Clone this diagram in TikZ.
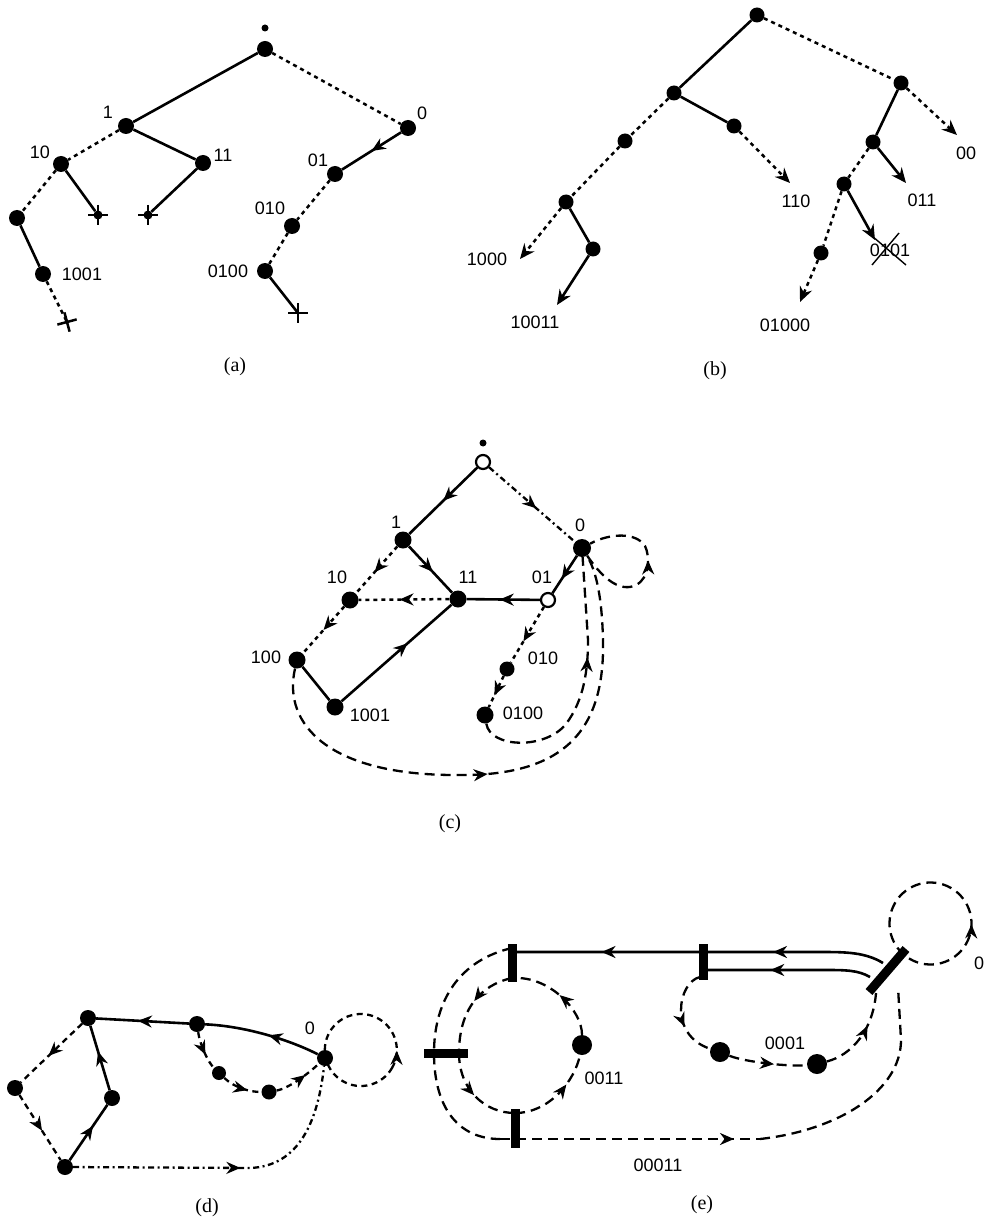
\documentclass[tikz,border=0pt]{standalone}
\usepackage{fontspec}
\setmainfont{Liberation Serif}
\newfontfamily\labfont{Liberation Sans}
\usetikzlibrary{arrows.meta,decorations.markings}
\tikzset{pics/crs/.style={code={\draw[line width=2.5pt] (-10,0)--(10,0) (0,-10)--(0,10);}}}
\begin{document}
\begin{tikzpicture}[x=1pt,y=-1pt,
 nd/.style={circle,fill=black,inner sep=0pt,minimum size=#1},
 nd/.default=16pt,
 ond/.style={circle,draw=black,line width=2.2pt,fill=white,inner sep=0pt,minimum size=14pt},
 lb/.style={font={\labfont\fontsize{18}{18}\selectfont},inner sep=0pt},
 cpt/.style={font={\fontsize{20}{20}\selectfont},inner sep=0pt},
 sol/.style={line width=2.6pt},
 dtd/.style={line width=2.5pt,dash pattern=on 4pt off 4pt},
 ddt/.style={line width=2.3pt,dash pattern=on 6pt off 3.5pt on 2pt off 3.5pt},
 dsh/.style={line width=2.3pt,dash pattern=on 10pt off 6pt},
 dsm/.style={line width=2.3pt,dash pattern=on 6pt off 4.5pt},
 ma/.style={postaction={decorate,decoration={markings,mark=at position #1 with {\arrow{Stealth[length=14pt,width=12pt,inset=4.5pt]}}}}},
 ma/.default=0.5,
 arr/.style={-{Stealth[length=15pt,width=13pt,inset=5pt]}},
 bar/.style={line width=9pt},
]
\useasboundingbox (0,0) rectangle (983,1222);

% ---------------- (a)
\node[nd=7pt] (aRl) at (265,28) {};
\node[nd] (aR) at (265,49) {};
\node[nd] (a1) at (126,126) {};
\node[nd] (a0) at (408,128) {};
\node[nd] (a10) at (61,164) {};
\node[nd] (a11) at (203,163) {};
\node[nd] (a100) at (17,218) {};
\node[nd] (a1001) at (43,274) {};
\node[nd] (a01) at (335,174) {};
\node[nd] (a010) at (292,226) {};
\node[nd] (a0100) at (265,271) {};
\node[nd=9pt] (ax1) at (98,215) {};
\node[nd=9pt] (ax2) at (148,215) {};
\coordinate (ax3) at (67,322);
\coordinate (ax4) at (298,313);
\pic at (ax1) {crs};
\pic at (ax2) {crs};
\pic[rotate=15] at (ax3) {crs};
\pic at (ax4) {crs};
\draw[sol] (aR) -- (a1);
\draw[dtd] (aR) -- (a0);
\draw[dtd] (a1) -- (a10);
\draw[sol] (a1) -- (a11);
\draw[dtd] (a10) -- (a100);
\draw[sol] (a10) -- (ax1);
\draw[sol] (a11) -- (ax2);
\draw[sol] (a100) -- (a1001);
\draw[dtd] (a1001) -- (ax3);
\draw[sol,ma=0.5] (a0) -- (a01);
\draw[dtd] (a01) -- (a010);
\draw[dtd] (a010) -- (a0100);
\draw[sol] (a0100) -- (ax4);
\node[lb] (la1) at (108,112) {1};
\node[lb] (la0) at (422,113) {0};
\node[lb] (la10) at (40,152) {10};
\node[lb] (la11) at (223,155) {11};
\node[lb] (la1001) at (82,274) {1001};
\node[lb] (la01) at (318,160) {01};
\node[lb] (la010) at (270,208) {010};
\node[lb] (la0100) at (228,271) {0100};
\node[cpt] (capa) at (235,367) {(a)};

% ---------------- (b)
\node[nd=15pt] (bR) at (757,15) {};
\node[nd=15pt] (bL) at (674,93) {};
\node[nd=15pt] (bRt) at (901,83) {};
\node[nd=15pt] (b11) at (734,126) {};
\node[nd=15pt] (b10) at (625,141) {};
\node[nd=15pt] (b100) at (566,202) {};
\node[nd=15pt] (b1001) at (593,249) {};
\node[nd=15pt] (b01) at (873,142) {};
\node[nd=15pt] (b010) at (844,184) {};
\node[nd=15pt] (b0100) at (821,253) {};
\coordinate (t110) at (790,183);
\coordinate (t1000) at (520,259);
\coordinate (t10011) at (557,305);
\coordinate (t00) at (957,135);
\coordinate (t011) at (906,183);
\coordinate (t0101) at (875,240);
\coordinate (t01000) at (800,302);
\draw[sol] (bR) -- (bL);
\draw[dtd] (bR) -- (bRt);
\draw[sol] (bL) -- (b11);
\draw[dtd,arr] (b11) -- (t110);
\draw[dtd] (bL) -- (b10);
\draw[dtd] (b10) -- (b100);
\draw[dtd,arr] (b100) -- (t1000);
\draw[sol] (b100) -- (b1001);
\draw[sol,arr] (b1001) -- (t10011);
\draw[dtd,arr] (bRt) -- (t00);
\draw[sol] (bRt) -- (b01);
\draw[sol,arr] (b01) -- (t011);
\draw[dtd] (b01) -- (b010);
\draw[sol,arr] (b010) -- (t0101);
\draw[dtd] (b010) -- (b0100);
\draw[dtd,arr] (b0100) -- (t01000);
\node[lb] (lb110) at (796,201) {110};
\node[lb] (lb1000) at (487,259) {1000};
\node[lb] (lb10011) at (535,322) {10011};
\node[lb] (lb00) at (966,153) {00};
\node[lb] (lb011) at (922,200) {011};
\node[lb] (lb0101) at (890,250) {0101};
\node[lb] (lb01000) at (785,325) {01000};
\draw[line width=1.4pt] (872,236) -- (906,265) (872,265) -- (899,233);
\node[cpt] (capb) at (715,371) {(b)};

% ---------------- (c)
\node[nd=7pt] (cdot) at (483,443) {};
\node[ond] (croot) at (483,462) {};
\node[nd=17pt] (c1) at (403,540) {};
\node[nd=18pt] (c0) at (582,548) {};
\node[nd=17pt] (c11) at (458,599) {};
\node[nd=17pt] (c10) at (350,600) {};
\node[ond] (c01) at (548,600) {};
\node[nd=17pt] (c100) at (297,660) {};
\node[nd=17pt] (c1001) at (335,707) {};
\node[nd=15pt] (c010) at (507,669) {};
\node[nd=17pt] (c0100) at (485,715) {};
\draw[sol,ma=0.5] (croot) -- (c1);
\draw[ddt,ma=0.55] (croot) -- (c0);
\draw[sol,ma=0.55] (c1) -- (c11);
\draw[dtd,ma=0.55] (c1) -- (c10);
\draw[dtd,ma=0.55] (c11) -- (c10);
\draw[sol,ma=0.55] (c01) -- (c11);
\draw[sol,ma=0.62] (c0) -- (c01);
\draw[dtd,ma=0.5] (c10) -- (c100);
\draw[sol] (c100) -- (c1001);
\draw[sol,ma=0.6] (c1001) -- (c11);
\draw[dtd,ma=0.62] (c01) -- (c010);
\draw[dtd,ma=0.62] (c010) -- (c0100);
\draw[dsh,ma=0.55] (c0) .. controls (605,582) and (622,592) .. (636,585) .. controls (650,578) and (650,556) .. (645,546) .. controls (636,532) and (610,533) .. (c0);
\draw[dsh,ma=0.62] (c0100) .. controls (490,748) and (545,750) .. (566,724) .. controls (584,700) and (588,670) .. (588,640) -- (c0);
\draw[dsh,ma=0.47] (c100) .. controls (282,725) and (330,775) .. (455,775) .. controls (565,777) and (605,730) .. (603,640) .. controls (602,600) and (597,572) .. (c0);
\node[lb] (lc1) at (396,522) {1};
\node[lb] (lc0) at (580,525) {0};
\node[lb] (lc11) at (468,577) {11};
\node[lb] (lc10) at (337,577) {10};
\node[lb] (lc01) at (542,577) {01};
\node[lb] (lc100) at (266,657) {100};
\node[lb] (lc1001) at (370,715) {1001};
\node[lb] (lc010) at (543,658) {010};
\node[lb] (lc0100) at (523,713) {0100};
\node[cpt] (capc) at (450,824) {(c)};

% ---------------- (d)
\node[nd] (d1) at (88,1018) {};
\node[nd] (d2) at (197,1024) {};
\node[nd] (d0) at (325,1058) {};
\node[nd=14pt] (da) at (219,1073) {};
\node[nd=15pt] (db) at (269,1092) {};
\node[nd] (dl) at (15,1088) {};
\node[nd] (d3) at (112,1098) {};
\node[nd] (dbt) at (65,1167) {};
\draw[dsm,ma=0.08] (392,1068) arc[start angle=30,end angle=-330,radius=36];
\draw[sol,ma=0.45] (d0) .. controls (290,1040) and (245,1026) .. (d2);
\draw[sol,ma=0.55] (d2) -- (d1);
\draw[dsm,ma=0.55] (d1) -- (dl);
\draw[dsm,ma=0.55] (dl) -- (dbt);
\draw[sol,ma=0.62] (dbt) -- (d3);
\draw[sol,ma=0.6] (d3) -- (d1);
\draw[dsm,ma=0.6] (d2) .. controls (200,1045) and (208,1062) .. (da);
\draw[dsm,ma=0.65] (da) .. controls (235,1088) and (250,1092) .. (db);
\draw[dsm,ma=0.65] (db) .. controls (290,1088) and (310,1072) .. (d0);
\draw[ddt,ma=0.53] (dbt) -- (250,1168) .. controls (300,1166) and (318,1120) .. (d0);
\node[lb] (ld0) at (310,1028) {0};
\node[cpt] (capd) at (207,1208) {(d)};

% ---------------- (e)
\node[nd=20pt] (e1) at (720,1052) {};
\node[nd=20pt] (e2) at (817,1064) {};
\node[nd=20pt] (e3) at (582,1045) {};
\draw[dsh,ma=0.08] (966,944) arc[start angle=30,end angle=-330,radius=41];
\draw[sol,ma=0.3,ma=0.76] (883,963) .. controls (865,952) and (845,952) .. (820,952) -- (512,952);
\draw[sol,ma=0.6] (870,977) .. controls (858,970) and (845,970) .. (825,970) -- (703,970);
\draw[dsh,ma=0.62] (700,977) .. controls (678,982) and (668,1035) .. (e1);
\draw[dsh,ma=0.58] (e1) .. controls (745,1062) and (790,1067) .. (e2);
\draw[dsh,ma=0.62] (e2) .. controls (852,1055) and (873,1030) .. (876,993);
\draw[dsh] (512,948) .. controls (460,960) and (434,1000) .. (434,1053) .. controls (434,1110) and (460,1139) .. (500,1139);
\draw[dsh,ma=0.9] (500,1139) -- (760,1139);
\draw[dsh] (760,1139) .. controls (840,1130) and (901,1090) .. (901,1040) -- (898,987);
\draw[dsh,ma=0.45] (512,978) .. controls (480,985) and (459,1010) .. (459,1053);
\draw[dsh,ma=0.5] (459,1053) .. controls (459,1090) and (485,1113) .. (515,1113);
\draw[dsh,ma=0.65] (515,1113) .. controls (550,1113) and (575,1080) .. (e3);
\draw[dsh,ma=0.5] (e3) .. controls (582,1010) and (550,978) .. (517,978);
\draw[bar] (512,944) -- (512,982);
\draw[bar] (703,944) -- (703,980);
\draw[bar] (424,1053) -- (468,1053);
\draw[bar] (515,1109) -- (515,1148);
\draw[bar] (869,992) -- (906,949);
\node[lb] (le0001) at (785,1043) {0001};
\node[lb] (le0011) at (604,1078) {0011};
\node[lb] (le00011) at (658,1165) {00011};
\node[lb] (le0) at (979,963) {0};
\node[cpt] (cape) at (702,1205) {(e)};
\end{tikzpicture}
\end{document}
